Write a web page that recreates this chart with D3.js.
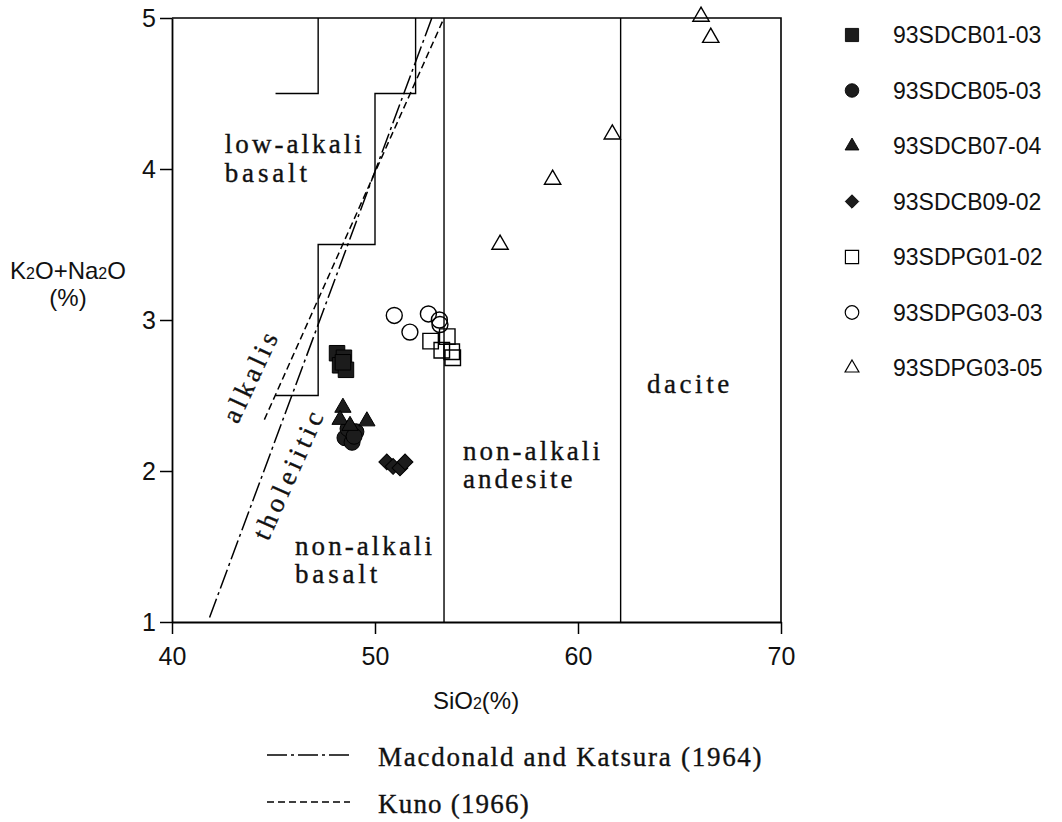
<!DOCTYPE html>
<html>
<head>
<meta charset="utf-8">
<script src="https://cdn.jsdelivr.net/npm/d3@7"></script>
<style>
  body { margin: 0; background: #fff; }
  svg { display: block; }
  .num { font-family: "Liberation Sans", Arial, sans-serif; }
  .rock { font-family: "Liberation Serif", "DejaVu Serif", serif; font-size: 27px; fill: #111; stroke: #111; stroke-width: 0.35; }
</style>
</head>
<body>
<svg id="chart" width="1062" height="822"></svg>
<script>
// ---- data ----
var sio2Ticks = [40, 50, 60, 70];
var alkTicks = [1, 2, 3, 4, 5];

var seriesNames = ["93SDCB01-03", "93SDCB05-03", "93SDCB07-04", "93SDCB09-02",
                   "93SDPG01-02", "93SDPG03-03", "93SDPG03-05"];

var cb0103 = [[48.13, 2.78], [48.47, 2.75], [48.28, 2.70], [48.57, 2.67], [48.42, 2.72]];
var cb0503 = [[48.52, 2.22], [48.87, 2.19], [49.06, 2.26], [48.67, 2.28], [48.97, 2.23]];
var cb0704 = [[48.42, 2.42], [48.28, 2.34], [49.60, 2.33], [48.77, 2.30]];
var cb0902 = [[50.58, 2.06], [50.89, 2.03], [51.23, 2.02], [51.48, 2.06]];
var pg0102 = [[52.74, 2.86], [53.56, 2.89], [53.29, 2.80], [53.78, 2.79], [53.83, 2.75]];
var pg0303 = [[50.95, 3.03], [51.72, 2.92], [52.63, 3.04], [53.17, 3.00], [53.20, 2.97]];
var pg0305 = [[56.16, 3.50], [58.75, 3.93], [61.69, 4.23], [66.06, 5.01], [66.54, 4.87]];

// field boundaries
var stepMain = [[52, 5], [52, 4.5], [50, 4.5], [50, 3.5], [47.2, 3.5], [47.2, 2.5], [45.1, 2.5]];
var stepTop = [[45.1, 4.5], [47.2, 4.5], [47.2, 5]];
var andesiteLine = [[53.4, 1], [53.4, 5]];
var daciteLine = [[62.1, 1], [62.1, 5]];
var macdonaldLine = [[41.85, 1.03], [52.8, 5]];
var kunoLine = [[44.55, 2.34], [53.4, 5]];

// ---- setup ----
var svg = d3.select("#chart");
var x = d3.scaleLinear().domain([40, 70]).range([172, 781]);
var y = d3.scaleLinear().domain([1, 5]).range([622, 18]);

var line = d3.line()
  .x(function(d) { return x(d[0]); })
  .y(function(d) { return y(d[1]); });

// frame (top + right)
svg.append("path")
  .attr("d", line([[40, 5], [70, 5], [70, 1]]))
  .attr("fill", "none").attr("stroke", "#000").attr("stroke-width", 1.6);

// axes
var xAxis = svg.append("g")
  .attr("transform", "translate(0," + y(1) + ")")
  .call(d3.axisBottom(x).tickValues(sio2Ticks).tickFormat(d3.format("d"))
    .tickSize(12).tickPadding(13).tickSizeOuter(0));
var yAxis = svg.append("g")
  .attr("transform", "translate(" + x(40) + ",0)")
  .call(d3.axisLeft(y).tickValues(alkTicks).tickFormat(d3.format("d"))
    .tickSize(12).tickPadding(4).tickSizeOuter(0));

[xAxis, yAxis].forEach(function(g) {
  g.select(".domain").attr("stroke-width", 1.8);
  g.selectAll(".tick line").attr("stroke-width", 1.5);
  g.selectAll("text").attr("class", "num").attr("font-size", 25).attr("fill", "#111");
});

// boundaries
[stepMain, stepTop, andesiteLine, daciteLine].forEach(function(pts) {
  svg.append("path").attr("d", line(pts))
    .attr("fill", "none").attr("stroke", "#000").attr("stroke-width", 1.4);
});
svg.append("path").attr("d", line(macdonaldLine))
  .attr("fill", "none").attr("stroke", "#000").attr("stroke-width", 1.5)
  .attr("stroke-dasharray", "20,4,3,4");
svg.append("path").attr("d", line(kunoLine))
  .attr("fill", "none").attr("stroke", "#000").attr("stroke-width", 1.5)
  .attr("stroke-dasharray", "7,4");

// rock field labels
var cw = 13.7; // char cell width of the typewriter-like face
function rockText(txt, px, py, rot) {
  var t = svg.append("text").attr("class", "rock")
    .attr("textLength", txt.length * cw).attr("lengthAdjust", "spacing")
    .text(txt);
  if (rot) {
    t.attr("text-anchor", "middle").attr("dominant-baseline", "central")
     .attr("transform", "translate(" + px + "," + py + ") rotate(" + rot + ")");
  } else {
    t.attr("x", px).attr("y", py);
  }
  return t;
}
rockText("low-alkali", x(42.6), y(4.106));
rockText("basalt", x(42.6), y(4.106) + 29);
rockText("non-alkali", x(46.06), y(1.444));
rockText("basalt", x(46.06), y(1.444) + 28);
rockText("non-alkali", x(54.33), y(2.073));
rockText("andesite", x(54.33), y(2.073) + 28);
rockText("dacite", x(63.4), y(2.517));
rockText("alkalis", x(43.84), y(2.62), -65);
rockText("tholeiitic", x(45.71), y(1.97), -66);

// markers
var symSquare = d3.symbol().type(d3.symbolSquare).size(240);
var symCircle = d3.symbol().type(d3.symbolCircle).size(200);
var symTri = d3.symbol().type(d3.symbolTriangle).size(115);
var symDiamond = d3.symbol().type(d3.symbolSquare).size(125);

var markerDefs = [
  { data: cb0103, path: symSquare(), rot: 0, filled: true },
  { data: cb0503, path: symCircle(), rot: 0, filled: true },
  { data: cb0704, path: symTri(), rot: 0, filled: true },
  { data: cb0902, path: symDiamond(), rot: 45, filled: true },
  { data: pg0102, path: symSquare(), rot: 0, filled: false },
  { data: pg0303, path: symCircle(), rot: 0, filled: false },
  { data: pg0305, path: symTri(), rot: 0, filled: false }
];

function styleMarker(sel, m) {
  sel.attr("d", m.path)
    .attr("fill", m.filled ? "#1c1c1c" : "none")
    .attr("stroke", "#000")
    .attr("stroke-width", m.filled ? 1 : 1.4);
}

markerDefs.forEach(function(m, i) {
  svg.append("g").attr("class", "series-" + i)
    .selectAll("path").data(m.data).enter().append("path")
    .attr("transform", function(d) {
      return "translate(" + x(d[0]) + "," + y(d[1]) + ") rotate(" + m.rot + ")";
    })
    .call(styleMarker, m);
});

// legend (right)
var legY = d3.scalePoint().domain(seriesNames).range([35, 368]);
var leg = svg.append("g");
seriesNames.forEach(function(name, i) {
  var m = markerDefs[i];
  leg.append("path")
    .attr("transform", "translate(852," + legY(name) + ") rotate(" + m.rot + ") scale(0.85)")
    .call(styleMarker, m);
  leg.append("text").attr("class", "num")
    .attr("x", 893).attr("y", legY(name) + 8)
    .attr("font-size", 23).attr("fill", "#111")
    .text(name);
});

// axis titles
var xt = svg.append("text").attr("class", "num").attr("font-size", 24).attr("fill", "#111")
  .attr("x", 476).attr("y", 709).attr("text-anchor", "middle");
xt.append("tspan").text("SiO");
xt.append("tspan").attr("font-size", 16).text("2");
xt.append("tspan").text("(%)");

var yt = svg.append("text").attr("class", "num").attr("font-size", 24).attr("fill", "#111")
  .attr("x", 68).attr("y", 279).attr("text-anchor", "middle");
yt.append("tspan").text("K");
yt.append("tspan").attr("font-size", 16).text("2");
yt.append("tspan").text("O+Na");
yt.append("tspan").attr("font-size", 16).text("2");
yt.append("tspan").text("O");
svg.append("text").attr("class", "num").attr("font-size", 24).attr("fill", "#111")
  .attr("x", 68).attr("y", 306).attr("text-anchor", "middle").text("(%)");

// line legend (bottom)
var lineLegend = [
  { label: "Macdonald and Katsura (1964)", dash: "20,4,3,4" },
  { label: "Kuno (1966)", dash: "7,4" }
];
lineLegend.forEach(function(l, i) {
  var ly = 755 + i * 47;
  svg.append("line").attr("x1", 267).attr("x2", 350).attr("y1", ly).attr("y2", ly)
    .attr("stroke", "#000").attr("stroke-width", 1.4).attr("stroke-dasharray", l.dash);
  rockText(l.label, 378, ly + 11);
});
</script>
</body>
</html>
